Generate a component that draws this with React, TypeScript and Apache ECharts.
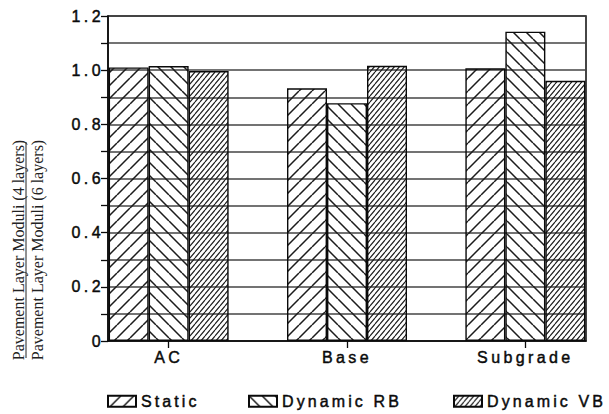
import React, { useEffect, useRef } from "react";
import * as echarts from "echarts";

// Ratio of back-calculated pavement layer moduli (4-layer / 6-layer model)
const categories = ["AC", "Base", "Subgrade"];
const seriesNames = ["Static", "Dynamic RB", "Dynamic VB"];
const staticRatio = [1.01, 0.933, 1.007];
const dynamicRB = [1.015, 0.878, 1.142];
const dynamicVB = [0.997, 1.016, 0.961];
const yTitleTop = "Pavement Layer Moduli (4 layers)";
const yTitleBottom = "Pavement Layer Moduli (6 layers)";

const SANS = '"Liberation Sans", Arial, Helvetica, sans-serif';
const SERIF_FONT = '16px "Liberation Serif", "Times New Roman", serif';
const INK = "#0a0a0a";

// Slightly heavier sans labels
const labelText = {
  fontFamily: SANS,
  fontSize: 16,
  color: INK,
  textBorderColor: INK,
  textBorderWidth: 0.45,
};

// Diagonal hatch tile; dir 1 draws "/", dir -1 draws "\"
function hatch(w: number, h: number, dir: number, lw: number) {
  const c = document.createElement("canvas");
  c.width = w;
  c.height = h;
  const ctx = c.getContext("2d")!;
  ctx.strokeStyle = "#1c1c1c";
  ctx.lineWidth = lw;
  ctx.beginPath();
  for (const dx of [-w, 0, w]) {
    if (dir === 1) {
      ctx.moveTo(dx, h);
      ctx.lineTo(dx + w, 0);
    } else {
      ctx.moveTo(dx, 0);
      ctx.lineTo(dx + w, h);
    }
  }
  ctx.stroke();
  return { image: c, repeat: "repeat", imageWidth: w, imageHeight: h } as any;
}

// Tracked-out sans labels; the serif axis title keeps normal spacing
function spaceLetters(root: HTMLElement | null) {
  if (!root) return;
  root.querySelectorAll("text").forEach((t) => {
    const st = t.getAttribute("style") || "";
    if (st.indexOf("Serif") !== -1) return;
    const txt = t.textContent || "";
    const sp = txt.indexOf("Dynamic") !== -1 || txt === "Static" ? "3.1" : "3.4";
    t.setAttribute("letter-spacing", sp);
  });
}

export default function App() {
  const ref = useRef<HTMLDivElement>(null);

  useEffect(() => {
    if (!ref.current) return;
    const chart = echarts.init(ref.current, null, { renderer: "svg" });

    const patterns = [hatch(13, 13, 1, 1.5), hatch(13, 13, -1, 1.5), hatch(5, 6, 1, 1.15)];
    const values = [staticRatio, dynamicRB, dynamicVB];

    const series = seriesNames.map((name, si) => ({
      type: "bar",
      name,
      data: values[si].map((v, i) => [i, v]),
      barWidth: 40,
      barGap: "0%",
      itemStyle: { color: patterns[si], borderColor: INK, borderWidth: 1.4 },
      emphasis: { disabled: true },
    }));

    const legendLeft = [107, 248, 453];

    chart.setOption({
      animation: false,
      backgroundColor: "#ffffff",
      grid: {
        left: 108,
        top: 16,
        width: 478,
        height: 325,
        show: true,
        borderColor: INK,
        borderWidth: 1.5,
        backgroundColor: "transparent",
        outerBoundsMode: "none",
      },
      xAxis: {
        type: "value",
        min: -0.34,
        max: 2.34,
        axisLine: { show: true, onZero: false, lineStyle: { color: INK, width: 1.5 } },
        axisTick: { show: true, customValues: [0, 1, 2], length: 7, lineStyle: { color: INK, width: 1.3 } },
        axisLabel: {
          customValues: [0, 1, 2],
          formatter: (v: number) => categories[Math.round(v)] ?? "",
          margin: 8,
          ...labelText,
        },
        splitLine: { show: false },
      },
      yAxis: {
        type: "value",
        min: 0,
        max: 1.2,
        interval: 0.2,
        axisLine: { show: true, onZero: false, lineStyle: { color: INK, width: 1.5 } },
        axisTick: { show: true, length: 7, lineStyle: { color: INK, width: 1.3 } },
        minorTick: { show: true, splitNumber: 2, length: 7, lineStyle: { color: INK, width: 1.3 } },
        minorSplitLine: { show: true, lineStyle: { color: "#444", width: 1.5 } },
        splitLine: { show: true, lineStyle: { color: "#444", width: 1.5 } },
        axisLabel: {
          formatter: (v: number) => (v === 0 ? "0" : v.toFixed(1)),
          margin: 4,
          ...labelText,
        },
      },
      legend: seriesNames.map((name, i) => ({
        data: [name],
        left: legendLeft[i],
        top: 393,
        padding: 0,
        orient: "horizontal",
        itemWidth: 28,
        itemHeight: 11,
        icon: "rect",
        selectedMode: false,
        textStyle: { ...labelText },
      })),
      graphic: [
        {
          type: "text",
          x: 18,
          y: 250,
          rotation: Math.PI / 2,
          style: {
            text: yTitleTop,
            font: SERIF_FONT,
            fill: "#222",
            align: "center",
            verticalAlign: "middle",
          },
        },
        {
          type: "line",
          shape: { x1: 26, y1: 142, x2: 26, y2: 358 },
          style: { stroke: "#222", lineWidth: 1 },
        },
        {
          type: "text",
          x: 37,
          y: 250,
          rotation: Math.PI / 2,
          style: {
            text: yTitleBottom,
            font: SERIF_FONT,
            fill: "#222",
            align: "center",
            verticalAlign: "middle",
          },
        },
      ],
      series,
    } as any);

    spaceLetters(ref.current);
    chart.on("finished", () => spaceLetters(ref.current));

    return () => {
      chart.dispose();
    };
  }, []);

  return (
    <div
      ref={ref}
      style={{ position: "fixed", left: 0, top: 0, width: 609, height: 414, background: "#fff" }}
    />
  );
}
